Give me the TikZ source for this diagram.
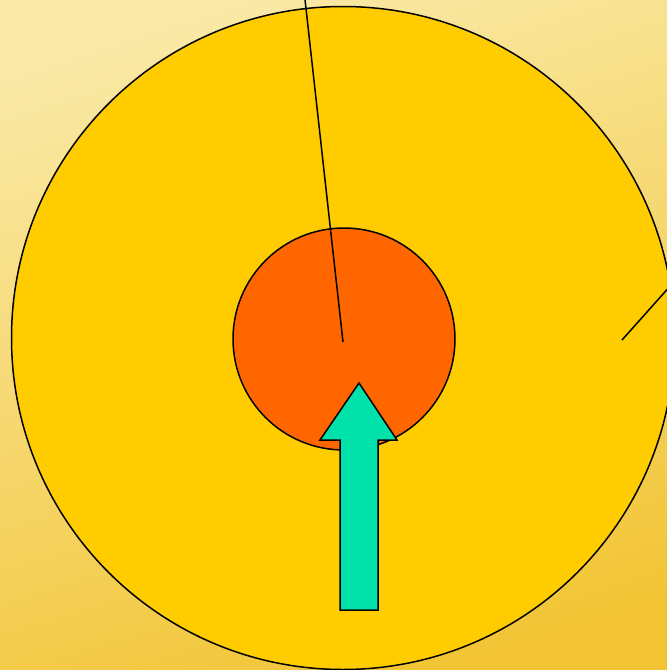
\documentclass[tikz,border=0pt]{standalone}
\usetikzlibrary{calc}
\definecolor{bgtop}{RGB}{250,234,168}
\definecolor{bgbot}{RGB}{242,196,52}
\definecolor{sun}{RGB}{255,204,0}
\definecolor{core}{RGB}{255,102,0}
\definecolor{arrowgreen}{RGB}{0,226,170}
\tikzset{
  ring/.style={circle, draw=black, line width=1.5pt, inner sep=0pt},
  thin line/.style={draw=black, line width=1.5pt},
}
\begin{document}
\begin{tikzpicture}[x=1pt,y=-1pt]
\useasboundingbox (0,0) rectangle (667,670);
\clip (0,0) rectangle (667,670);
\shade[top color=bgtop, bottom color=bgbot, shading angle=18] (-20,-20) rectangle (687,690);
\node[ring, fill=sun, minimum size=663pt] (outer) at (343,338) {};
\node[ring, fill=core, minimum size=222pt] (inner) at (344,339) {};
\coordinate (c) at (343,342);
\coordinate (topend) at (304.5,-5);
\coordinate (rstart) at (622,340);
\coordinate (rend) at (672,284);
\draw[thin line] (c) -- (topend);
\draw[thin line] (rstart) -- (rend);
\draw[line width=1.5pt, fill=arrowgreen, line join=miter]
  (359,383) -- (397,440) -- (378,440) -- (378,610) -- (340,610) -- (340,440) -- (320,440) -- cycle;
\end{tikzpicture}
\end{document}
